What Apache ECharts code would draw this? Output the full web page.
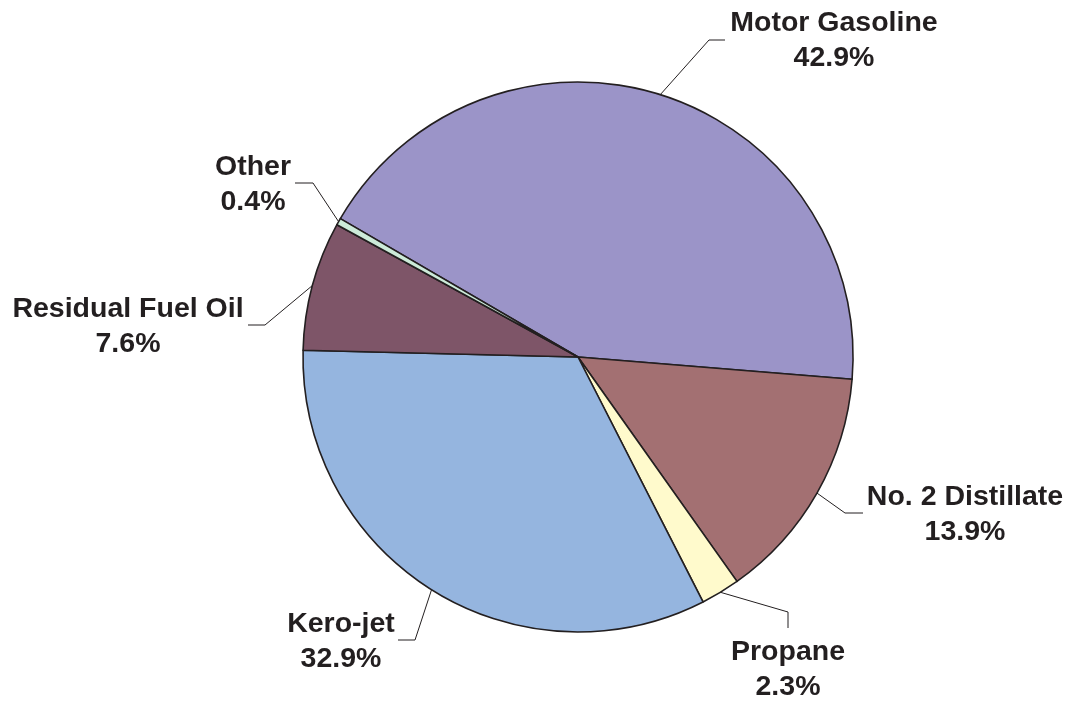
<!DOCTYPE html>
<html>
<head>
<meta charset="utf-8">
<script src="https://cdn.jsdelivr.net/npm/echarts@6/dist/echarts.min.js"></script>
<style>
  html, body { margin: 0; padding: 0; background: #fff; }
  #chart { width: 1069px; height: 702px; }
</style>
</head>
<body>
<div id="chart"></div>
<script>
// slices, clockwise from the Motor Gasoline / Other boundary
const fuels = ['Motor Gasoline', 'No. 2 Distillate', 'Propane', 'Kero-jet', 'Residual Fuel Oil', 'Other']
const shares = [42.9, 13.9, 2.3, 32.9, 7.6, 0.4]
const colors = ['#9b94c8', '#a37072', '#fffacc', '#95b5df', '#7e5568', '#cdebd9']

// where each label sits and how its leader line bends (x, y of label centre, elbow, end)
const labelSpots = [
  { x: 834, y: 41, elbow: [709, 40], end: [725, 40] },
  { x: 965, y: 515, elbow: [845, 513], end: [863, 513] },
  { x: 788, y: 670, elbow: [788, 612], end: [788, 628] },
  { x: 341, y: 642, elbow: [415, 640], end: [398, 640] },
  { x: 128, y: 327, elbow: [265, 325], end: [248, 325] },
  { x: 253, y: 185, elbow: [313, 183], end: [295, 183] }
]

const chart = echarts.init(document.getElementById('chart'))
const option = {
  animation: false,
  color: colors,
  series: [
    {
      type: 'pie',
      center: [578, 357],
      radius: 275,
      startAngle: 149.8,
      clockwise: true,
      avoidLabelOverlap: false,
      itemStyle: {
        borderColor: '#231f20',
        borderWidth: 1.6
      },
      label: {
        show: true,
        position: 'outside',
        formatter: '{b}\n{c}%',
        fontFamily: 'Liberation Sans, Arial, sans-serif',
        fontWeight: 'bold',
        fontSize: 28.5,
        lineHeight: 35,
        color: '#231f20',
        width: 280,
        overflow: 'none',
        align: 'center'
      },
      labelLine: {
        show: true,
        length: 20,
        length2: 15,
        lineStyle: { color: '#231f20', width: 1 }
      },
      labelLayout: function (params) {
        const s = labelSpots[params.dataIndex]
        const start = params.labelLinePoints ? params.labelLinePoints[0] : s.elbow
        return {
          x: s.x,
          y: s.y,
          align: 'center',
          verticalAlign: 'middle',
          labelLinePoints: [start, s.elbow, s.end]
        }
      },
      emphasis: { disabled: true },
      data: fuels.map((name, i) => ({ name: name, value: shares[i] }))
    }
  ]
}
chart.setOption(option)
</script>
</body>
</html>
